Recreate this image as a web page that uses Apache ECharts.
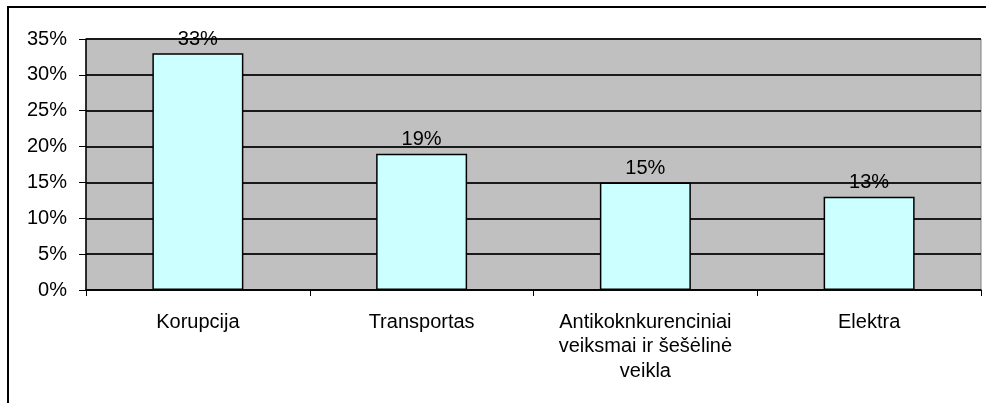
<!DOCTYPE html>
<html>
<head>
<meta charset="utf-8">
<script src="https://cdn.jsdelivr.net/npm/echarts@6/dist/echarts.min.js"></script>
<style>
  html, body { margin: 0; padding: 0; background: #fff; }
  #frame { position: absolute; left: 7px; top: 6px; width: 1000px; height: 420px; border: 2px solid #000; box-sizing: border-box; }
  #chart { position: absolute; left: 0; top: 0; width: 986px; height: 403px; }
</style>
</head>
<body>
<div id="frame"></div>
<div id="chart"></div>
<script>
var categories = ["Korupcija", "Transportas", "Antikoknkurenciniai\nveiksmai ir šešėlinė\nveikla", "Elektra"];
var values = [33, 19, 15, 13];
var yTicks = [0, 5, 10, 15, 20, 25, 30, 35];

var chart = echarts.init(document.getElementById("chart"));
chart.setOption({
  animation: false,
  grid: {
    left: 86,
    right: 5,
    top: 39,
    bottom: 113,
    show: true,
    backgroundColor: "#c0c0c0",
    borderColor: "#808080",
    borderWidth: 1
  },
  xAxis: {
    type: "category",
    data: categories,
    axisLine: { lineStyle: { color: "#000", width: 1.5 } },
    axisTick: { show: true, interval: 0, length: 6, lineStyle: { color: "#000" } },
    axisLabel: {
      interval: 0,
      hideOverlap: false,
      color: "#000",
      fontFamily: "Liberation Sans, Arial",
      fontSize: 20,
      lineHeight: 24.5,
      margin: 20
    }
  },
  yAxis: {
    type: "value",
    min: yTicks[0],
    max: yTicks[yTicks.length - 1],
    interval: 5,
    axisLine: { show: true, lineStyle: { color: "#000", width: 1.5 } },
    axisTick: { show: true, length: 7, inside: false, lineStyle: { color: "#000" } },
    axisLabel: {
      color: "#000",
      fontFamily: "Liberation Sans, Arial",
      fontSize: 20,
      margin: 19,
      formatter: "{value}%"
    },
    splitLine: { show: true, lineStyle: { color: "#1a1a1a", width: 1.8 } }
  },
  series: [
    {
      type: "bar",
      data: values,
      barWidth: 91,
      itemStyle: { color: "#ccffff", borderColor: "#000", borderWidth: 1.5 },
      label: {
        show: true,
        position: "top",
        distance: 4,
        color: "#000",
        fontFamily: "Liberation Sans, Arial",
        fontSize: 20,
        formatter: "{c}%"
      }
    }
  ]
});
</script>
</body>
</html>
